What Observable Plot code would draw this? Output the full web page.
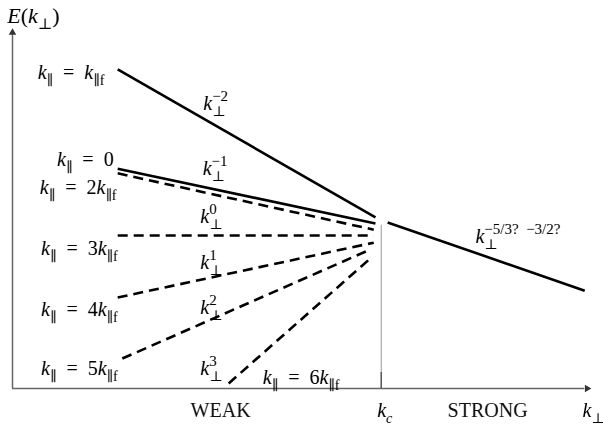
<!DOCTYPE html>
<html>
<head>
<meta charset="utf-8">
<script src="https://cdn.jsdelivr.net/npm/d3@7"></script>
<script src="https://cdn.jsdelivr.net/npm/@observablehq/plot@0.6"></script>
<style>
  html, body { margin: 0; padding: 0; background: #fff; }
  svg { display: block; }
  #chart svg { filter: grayscale(1); }
  #chart svg text, #chart svg tspan { font-family: "Liberation Serif", "DejaVu Serif", serif; }
  #chart svg tspan.sym { font-family: "DejaVu Serif", "DejaVu Sans", serif; }
</style>
</head>
<body>
<div id="chart"></div>
<script>
// ---- data (schematic log k_perp vs log E, arbitrary units 0..100) ----
const seriesNames = ["k∥=k∥f", "k∥=0", "k∥=2k∥f", "k∥=3k∥f", "k∥=4k∥f", "k∥=5k∥f", "k∥=6k∥f", "strong"];
const xStart = [18.2, 18.2, 18.2, 18.2, 18.2, 19.0, 37.4, 64.9];
const eStart = [88.4, 60.9, 59.6, 42.4, 25.2, 8.3, 1.4, 46.0];
const xEnd   = [62.8, 62.8, 62.5, 62.5, 62.5, 61.9, 62.1, 99.0];
const eEnd   = [47.4, 45.7, 44.0, 42.4, 40.4, 38.5, 36.3, 27.1];
const dashed = [false, false, true, true, true, true, true, false];

const kc = 63.8;           // critical k_perp
const kcLineTop = 45.2;    // top of the k_c guide line

// left-hand k_parallel labels
const EQ = "\u2002=\u2002";
const parLabels = ["k_{∥}" + EQ + "k_{∥f}", "k_{∥}" + EQ + "0", "k_{∥}" + EQ + "2k_{∥f}", "k_{∥}" + EQ + "3k_{∥f}", "k_{∥}" + EQ + "4k_{∥f}", "k_{∥}" + EQ + "5k_{∥f}"];
const parLabelX = [15.9, 17.5, 18.0, 18.2, 18.2, 18.2];
const parLabelY = [87.5, 63.4, 55.6, 38.8, 21.9, 5.5];
const par6Label = "k_{∥}" + EQ + "6k_{∥f}";

// power-law slope labels
const slopeLabels = ["k_{⊥}^{−2}", "k_{⊥}^{−1}", "k_{⊥}^{0}", "k_{⊥}^{1}", "k_{⊥}^{2}", "k_{⊥}^{3}", "k_{⊥}^{−5/3?\u2002−3/2?}"];
const slopeLabelX = [33.0, 32.9, 32.5, 32.5, 32.5, 32.5, 80.1];
const slopeLabelY = [78.9, 60.8, 47.6, 34.9, 22.4, 5.5, 42.1];

// x-axis annotations
const regimeLabels = ["WEAK", "STRONG"];
const regimeX = [36.0, 82.2];

const segments = seriesNames.map((name, i) => ({
  name, x1: xStart[i], y1: eStart[i], x2: xEnd[i], y2: eEnd[i], dashed: dashed[i]
}));
const parTable = parLabels.map((t, i) => ({t, x: parLabelX[i], y: parLabelY[i]}));
const slopeTable = slopeLabels.map((t, i) => ({t, x: slopeLabelX[i], y: slopeLabelY[i]}));
const regimeTable = regimeLabels.map((t, i) => ({t, x: regimeX[i], y: -6.1}));

const FS = 20;
const serif = "Liberation Serif";

const chart = Plot.plot({
  width: 603,
  height: 431,
  margin: 0,
  style: {background: "#fff", overflow: "visible"},
  x: {domain: [0, 100], range: [12, 590], axis: null},
  y: {domain: [0, 100], range: [388, 27], axis: null},
  marks: [
    // k_c guide
    Plot.ruleX([kc], {y1: 0, y2: kcLineTop, stroke: "#aaa", strokeWidth: 1.2}),
    Plot.ruleX([kc], {y1: 0, y2: 4.4, stroke: "#555", strokeWidth: 1.4}),
    // axes
    Plot.ruleX([0], {y1: 0, y2: 99, stroke: "#666", strokeWidth: 1.5}),
    Plot.ruleY([0], {x1: 0, x2: 99, stroke: "#666", strokeWidth: 1.5}),
    Plot.dot([{x: 0, y: 98.6}], {x: "x", y: "y", symbol: "triangle2", r: 3.6, fill: "#333", stroke: "none"}),
    Plot.dot([{x: 99.4, y: 0}], {x: "x", y: "y", symbol: "triangle2", r: 3.6, fill: "#333", stroke: "none", rotate: 90}),
    // spectra
    Plot.link(segments.filter(d => !d.dashed), {x1: "x1", y1: "y1", x2: "x2", y2: "y2", stroke: "#000", strokeWidth: 2.6}),
    Plot.link(segments.filter(d => d.dashed), {x1: "x1", y1: "y1", x2: "x2", y2: "y2", stroke: "#000", strokeWidth: 2.6, strokeDasharray: "10,6"}),
    // labels
    Plot.text(parTable, {x: "x", y: "y", text: "t", textAnchor: "end", fontSize: FS, fontFamily: serif, fill: "#000"}),
    Plot.text([{t: par6Label, x: 43.3, y: 3.0}], {x: "x", y: "y", text: "t", textAnchor: "start", fontSize: FS, fontFamily: serif, fill: "#000"}),
    Plot.text(slopeTable, {x: "x", y: "y", text: "t", textAnchor: "start", fontSize: FS, fontFamily: serif, fill: "#000"}),
    Plot.text([{t: "E(k_{⊥})", x: -0.9, y: 103.3}], {x: "x", y: "y", text: "t", textAnchor: "start", fontSize: 22, fontFamily: serif, fill: "#000"}),
    Plot.text(regimeTable, {x: "x", y: "y", text: "t", textAnchor: "middle", fontSize: 20, fontFamily: serif, fill: "#111"}),
    Plot.text([{t: "k_{c}", x: kc + 0.6, y: -6.1}], {x: "x", y: "y", text: "t", textAnchor: "middle", fontSize: FS, fontFamily: serif, fill: "#000"}),
    Plot.text([{t: "k_{⊥}", x: 98.6, y: -6.1}], {x: "x", y: "y", text: "t", textAnchor: "start", fontSize: FS, fontFamily: serif, fill: "#000"})
  ]
});
document.getElementById("chart").appendChild(chart);

// ---- turn the light TeX-like markup into tspans (sub/superscripts, italic k/E) ----
function mathify(el) {
  const src = el.textContent;
  if (!/[_^]\{/.test(src)) return;
  const F = parseFloat(getComputedStyle(el).fontSize) || FS;
  const segs = [];
  let i = 0;
  while (i < src.length) {
    const c = src[i];
    if ((c === "_" || c === "^") && src[i + 1] === "{") {
      const j = src.indexOf("}", i);
      segs.push({level: c === "_" ? "sub" : "sup", s: src.slice(i + 2, j)});
      i = j + 1;
    } else {
      let j = i;
      while (j < src.length && !((src[j] === "_" || src[j] === "^") && src[j + 1] === "{")) j++;
      segs.push({level: "base", s: src.slice(i, j)});
      i = j;
    }
  }
  el.textContent = "";
  const off = {base: 0, sub: 0.3 * F, sup: -0.45 * F};
  const scale = {sub: 0.7, sup: 0.75};
  let cur = 0, prev = null;
  for (const seg of segs) {
    const stacked = prev && prev.level === "sub" && seg.level === "sup";
    const runs = seg.s.match(/[kEc]+|[∥⊥]+|[^kEc∥⊥]+/g) || [];
    const nodes = [];
    runs.forEach((r, idx) => {
      const t = d3.select(el).append("tspan").text(r);
      if (/[kEc]/.test(r[0])) t.attr("font-style", "italic");
      if (/[∥⊥]/.test(r[0])) t.attr("class", "sym");
      if (seg.level !== "base") t.attr("font-size", scale[seg.level] * F);
      if (idx === 0) {
        const target = off[seg.level];
        if (target !== cur) t.attr("dy", target - cur);
        cur = target;
        if (stacked) t.attr("dx", -prev.width);
      }
      nodes.push(t.node());
    });
    seg.width = nodes.reduce((a, n) => a + n.getComputedTextLength(), 0);
    prev = seg;
  }
}
d3.select(chart).selectAll("text").each(function () { mathify(this); });
</script>
</body>
</html>
